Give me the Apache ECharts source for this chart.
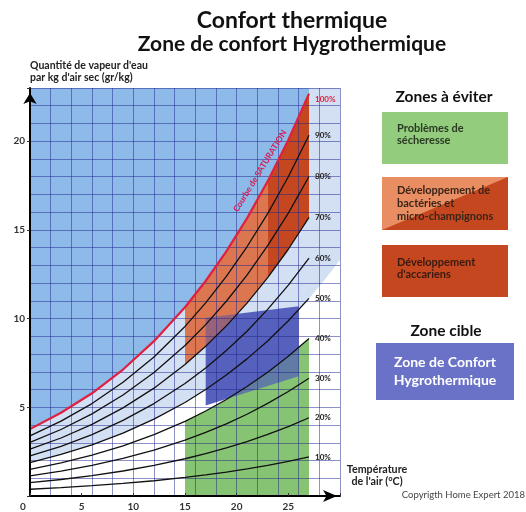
<!DOCTYPE html>
<html>
<head>
<meta charset="utf-8">
<script src="https://cdn.jsdelivr.net/npm/echarts@6/dist/echarts.min.js"></script>
<style>
  html, body { margin: 0; padding: 0; background: #fff; }
  #chart { width: 526px; height: 512px; }
</style>
</head>
<body>
<div id="chart"></div>
<script>
// temperatures (°C) where the humidity curves are read
const temps = [0, 3, 6, 9, 12, 15, 17, 19, 21, 23, 25, 27];
// water vapour (g/kg dry air) per relative humidity curve
const rh10 = [0.38, 0.47, 0.58, 0.71, 0.86, 1.05, 1.19, 1.35, 1.53, 1.73, 1.95, 2.20];
const rh20 = [0.75, 0.93, 1.15, 1.41, 1.73, 2.10, 2.39, 2.71, 3.07, 3.47, 3.91, 4.41];
const rh30 = [1.13, 1.40, 1.73, 2.12, 2.59, 3.15, 3.59, 4.07, 4.61, 5.22, 5.89, 6.64];
const rh40 = [1.50, 1.87, 2.30, 2.83, 3.46, 4.21, 4.79, 5.44, 6.17, 6.98, 7.88, 8.88];
const rh50 = [1.88, 2.34, 2.88, 3.54, 4.33, 5.27, 6.00, 6.82, 7.73, 8.74, 9.88, 11.14];
const rh60 = [2.26, 2.80, 3.46, 4.26, 5.21, 6.34, 7.22, 8.20, 9.29, 10.52, 11.89, 13.41];
const rh70 = [2.64, 3.27, 4.04, 4.97, 6.08, 7.41, 8.44, 9.59, 10.87, 12.31, 13.91, 15.71];
const rh80 = [3.02, 3.75, 4.63, 5.69, 6.96, 8.48, 9.66, 10.98, 12.45, 14.11, 15.95, 18.01];
const rh90 = [3.39, 4.22, 5.21, 6.41, 7.84, 9.56, 10.89, 12.38, 14.05, 15.92, 18.00, 20.34];
const rh100 = [3.77, 4.69, 5.79, 7.13, 8.73, 10.64, 12.12, 13.79, 15.65, 17.74, 20.07, 22.68];
const curves = [rh10, rh20, rh30, rh40, rh50, rh60, rh70, rh80, rh90, rh100];
const curveNames = ['10%', '20%', '30%', '40%', '50%', '60%', '70%', '80%', '90%', '100%'];

// 50% curve continued to the right edge (light blue band)
const extTemps = [28.5, 30];
const rh50Ext = [12.17, 13.30];

// zone limits (°C)
const dryZone = [15, 27];
const bacteriaZone = [15, 23];
const mitesZone = [23, 27];
// comfort zone corners
const comfortTemps = [17, 26, 26, 17];
const comfortHum = [5.1, 6.75, 10.7, 10.05];

const xMax = 30, yMax = 23;

function pts(curve, t0, t1) {
  let out = [];
  temps.forEach((t, i) => { if (t >= t0 && t <= t1) out.push([t, curve[i]]); });
  return out;
}

let bluePoly = pts(rh100, 0, 27).concat([[27, yMax], [0, yMax]]);
let lightPoly = pts(rh50, 0, 27)
  .concat(extTemps.map((t, i) => [t, rh50Ext[i]]))
  .concat([[xMax, yMax], [27, yMax]])
  .concat(pts(rh100, 0, 27).reverse());
let greenPoly = pts(rh40, dryZone[0], dryZone[1]).concat([[dryZone[1], 0], [dryZone[0], 0]]);
let orangePoly = pts(rh70, bacteriaZone[0], bacteriaZone[1]).concat(pts(rh100, bacteriaZone[0], bacteriaZone[1]).reverse());
let redPoly = pts(rh70, mitesZone[0], mitesZone[1]).concat(pts(rh100, mitesZone[0], mitesZone[1]).reverse());
let comfortPoly = comfortTemps.map((t, i) => [t, comfortHum[i]]);

function zone(name, poly, color, z) {
  return {
    type: 'custom', name: name, z: z, silent: true, data: [[0, 0]],
    renderItem: function (params, api) {
      return {
        type: 'polygon',
        shape: { points: poly.map(p => api.coord(p)) },
        style: { fill: color }
      };
    }
  };
}

let series = [
  zone('air sec', bluePoly, '#8dbae9', 1),
  zone('bande', lightPoly, '#d3dff3', 1),
  zone('secheresse', greenPoly, '#8dc776', 2),
  zone('bacteries', orangePoly, '#e98c5e', 2),
  zone('acariens', redPoly, '#c4471f', 2),
  zone('confort', comfortPoly, '#5660bd', 3),
  zone('secheresse2', greenPoly, 'rgba(120,190,110,0.3)', 4),
  zone('bacteries2', orangePoly, 'rgba(210,100,70,0.55)', 4)
];

curves.forEach((c, k) => {
  let sat = k === curves.length - 1;
  series.push({
    type: 'line', name: curveNames[k], z: 8, silent: true,
    data: temps.map((t, i) => [t, c[i]]),
    showSymbol: false, symbol: 'none',
    lineStyle: { color: sat ? '#e0203f' : '#111', width: sat ? 2.2 : 1.3 },
    endLabel: {
      show: true, formatter: curveNames[k], distance: 6,
      offset: sat ? [0, 6] : [0, 0],
      color: sat ? '#e0203f' : '#222', fontSize: 8, fontWeight: 'bold', fontFamily: 'Lato'
    }
  });
});

let font = 'Lato';
let dark = '#222';

let graphic = [
  { type: 'text', x: 292, y: 21, style: { text: 'Confort thermique', font: 'bold 23px Lato', fill: '#111', align: 'center', verticalAlign: 'middle' } },
  { type: 'text', x: 292, y: 44, style: { text: 'Zone de confort Hygrothermique', font: 'bold 21px Lato', fill: '#111', align: 'center', verticalAlign: 'middle' } },
  { type: 'text', x: 30, y: 60, style: { text: "Quantité de vapeur d'eau\npar kg d'air sec (gr/kg)", font: 'bold 10.5px Lato', lineHeight: 12, fill: dark, align: 'left' } },
  { type: 'text', x: 377, y: 463, style: { text: "Température\nde l'air (°C)", font: 'bold 10.7px Lato', lineHeight: 12.5, fill: dark, align: 'center' } },
  { type: 'text', x: 260, y: 171, rotation: 1.02, z: 100, style: { text: 'Courbe de SATURATION', fontFamily: 'Lato', fontSize: 8.5, fontWeight: 'bold', fill: '#d81b55', align: 'center', verticalAlign: 'middle' } },

  { type: 'text', x: 444, y: 97, style: { text: 'Zones à éviter', font: 'bold 15.5px Lato', fill: '#111', align: 'center', verticalAlign: 'middle' } },
  { type: 'rect', shape: { x: 382, y: 112, width: 126, height: 52 }, style: { fill: '#92cc7c' } },
  { type: 'text', x: 397, y: 122, style: { text: 'Problèmes de\nsécheresse', font: 'bold 11px Lato', lineHeight: 12.5, fill: '#2b3a25' } },
  { type: 'rect', shape: { x: 382, y: 177, width: 126, height: 53 }, style: { fill: '#e98d62' } },
  { type: 'polygon', shape: { points: [[382, 230], [508, 177], [508, 230]] }, style: { fill: '#c4471f' } },
  { type: 'text', x: 397, y: 184, style: { text: 'Développement de\nbactéries et\nmicro-champignons', font: 'bold 11px Lato', lineHeight: 13, fill: '#3a2418' } },
  { type: 'rect', shape: { x: 382, y: 245, width: 126, height: 52 }, style: { fill: '#c4471f' } },
  { type: 'text', x: 397, y: 256, style: { text: "Développement\nd'accariens", font: 'bold 11px Lato', lineHeight: 12.5, fill: '#3a1a10' } },

  { type: 'text', x: 446, y: 331, style: { text: 'Zone cible', font: 'bold 15.5px Lato', fill: '#111', align: 'center', verticalAlign: 'middle' } },
  { type: 'rect', shape: { x: 376, y: 343, width: 138, height: 57 }, style: { fill: '#6a72c8' } },
  { type: 'text', x: 445, y: 353, style: { text: 'Zone de Confort\nHygrothermique', font: 'bold 14px Lato', lineHeight: 18, fill: '#fff', align: 'center' } },

  { type: 'text', x: 525, y: 495, style: { text: 'Copyrigth Home Expert 2018', font: '9.5px Lato', fill: '#444', align: 'right', verticalAlign: 'middle' } }
];

let option = {
  animation: false,
  grid: { left: 30, top: 88, width: 310, height: 409, containLabel: false },
  xAxis: [
    {
      type: 'value', min: 0, max: xMax, interval: 5, z: 9,
      axisLine: { lineStyle: { color: '#000', width: 2 }, symbol: ['none', 'arrow'], symbolSize: [9, 14], symbolOffset: [0, -3] },
      axisTick: { inside: true, length: 3, lineStyle: { color: '#333' } },
      axisLabel: {
        fontFamily: font, fontSize: 10, fontWeight: 'bold', color: '#333', margin: 6,
        formatter: v => v === 0 ? '{z|0}' : (v < 30 ? String(v) : ''),
        rich: { z: { padding: [0, 14, 0, 0], fontFamily: font, fontSize: 10, fontWeight: 'bold', color: '#333' } }
      },
      splitLine: { show: false }
    },
    {
      type: 'value', min: 0, max: xMax, interval: 2, z: 6,
      axisLine: { show: false }, axisTick: { show: false }, axisLabel: { show: false },
      splitLine: { show: true, lineStyle: { color: 'rgba(30,35,140,0.5)', width: 1 } }
    }
  ],
  yAxis: [
    {
      type: 'value', min: 0, max: yMax, interval: 5, z: 9,
      axisLine: { show: true, lineStyle: { color: '#000', width: 2 }, symbol: ['none', 'arrow'], symbolSize: [10, 11], symbolOffset: [0, -5] },
      axisTick: { show: true, length: 3, lineStyle: { color: '#333' } },
      axisLabel: {
        fontFamily: font, fontSize: 10, fontWeight: 'bold', color: '#333', margin: 5,
        formatter: v => (v > 0 && v % 5 === 0) ? String(v) : ''
      },
      splitLine: { show: false }
    },
    {
      type: 'value', min: 0, max: yMax, interval: 1, z: 6,
      axisLine: { show: false }, axisTick: { show: false }, axisLabel: { show: false },
      splitLine: { show: true, lineStyle: { color: 'rgba(30,35,140,0.5)', width: 1 } }
    }
  ],
  series: series,
  graphic: graphic
};

let myChart = echarts.init(document.getElementById('chart'));
myChart.setOption(option);
</script>
</body>
</html>
